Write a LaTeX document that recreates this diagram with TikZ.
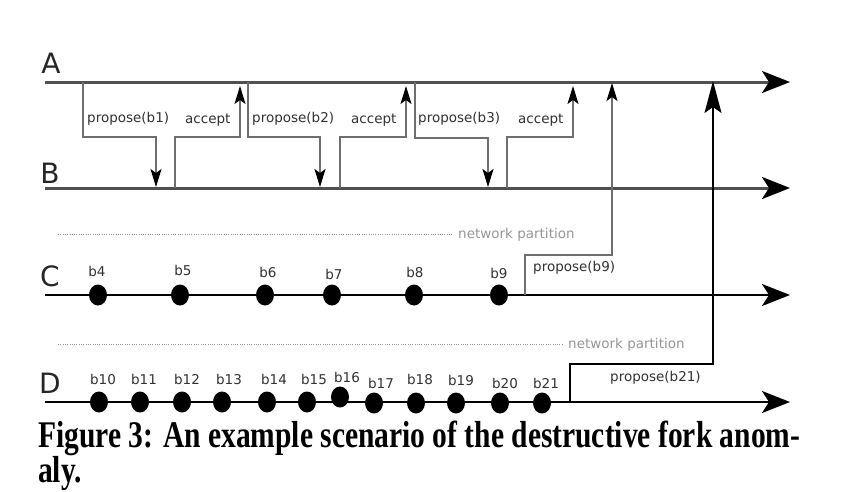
\documentclass[tikz,border=0pt]{standalone}
\usepackage{fontspec}
\usepackage{graphicx}
\setmainfont{DejaVu Sans}
\newfontfamily\capfont{Liberation Serif}
\usetikzlibrary{arrows.meta,shapes.geometric}
\definecolor{lanegray}{RGB}{80,80,80}
\definecolor{msggray}{RGB}{110,110,110}
\definecolor{txtgray}{RGB}{50,50,50}
\definecolor{partgray}{RGB}{150,150,150}
\newsavebox\capboxA
\begin{document}
\sbox\capboxA{\capfont\bfseries Figure 3: An example scenario of the destructive fork anom-}%
\pgfmathsetmacro\capsx{762/\the\wd\capboxA}%
\pgfmathsetmacro\capsy{26.5/\the\ht\capboxA}%
\begin{tikzpicture}[x=1pt,y=-1pt,
  lanegrey/.style={line width=3pt, draw=lanegray, -{Stealth[length=28pt,width=22pt,inset=7pt,color=black]}},
  laneblack/.style={line width=2.5pt, draw=black, -{Stealth[length=28pt,width=22pt,inset=7pt,color=black]}},
  lanelbl/.style={inner sep=0pt, font=\fontsize{28}{30}\selectfont, text=black!85},
  msg/.style={line width=1.5pt, draw=msggray, -{Stealth[length=18pt,width=11pt,inset=4pt,color=black]}},
  bigmsg/.style={line width=1.5pt, draw=black, -{Stealth[length=32pt,width=17pt,inset=6pt,color=black]}},
  msglbl/.style={inner sep=0pt, anchor=west, font=\fontsize{13.5}{16}\selectfont, text=txtgray},
  blklbl/.style={inner sep=0pt, font=\fontsize{13.5}{16}\selectfont, text=txtgray},
  blk/.style={ellipse, fill=black, minimum width=18pt, minimum height=21pt, inner sep=0pt},
  partline/.style={draw=partgray, line width=1pt, dash pattern=on 1pt off 1.3pt},
  partlbl/.style={inner sep=0pt, anchor=west, font=\fontsize{13.5}{16}\selectfont, text=partgray}
]
\clip (0,0) rectangle (862,491);
\useasboundingbox (0,0) rectangle (862,491);
\fill[white] (0,0) rectangle (862,491);

% lanes
\coordinate (A0) at (45,82);  \coordinate (A1) at (790,82);
\coordinate (B0) at (45,188); \coordinate (B1) at (790,188);
\coordinate (C0) at (45,295); \coordinate (C1) at (790,295);
\coordinate (D0) at (45,402); \coordinate (D1) at (790,402);
\draw[lanegrey] (A0) -- (A1);
\draw[lanegrey] (B0) -- (B1);
\draw[laneblack] (C0) -- (C1);
\draw[laneblack] (D0) -- (D1);
\node[lanelbl] (lA) at (51,63) {A};
\node[lanelbl] (lB) at (50,173) {B};
\node[lanelbl] (lC) at (50,276) {C};
\node[lanelbl] (lD) at (50,383) {D};

% partitions
\coordinate (P1a) at (58,234); \coordinate (P1b) at (452,234);
\coordinate (P2a) at (58,344); \coordinate (P2b) at (563,344);
\draw[partline] (P1a) -- (P1b);
\draw[partline] (P2a) -- (P2b);
\node[partlbl] (np1) at (458,235) {network partition};
\node[partlbl] (np2) at (568,345) {network partition};

% propose / accept between A and B
\coordinate (m1s) at (83,82);  \coordinate (m1k) at (156,137); \coordinate (m1e) at (156,187);
\coordinate (a1s) at (175,188); \coordinate (a1k) at (240,137); \coordinate (a1e) at (240,86);
\coordinate (m2s) at (248,82); \coordinate (m2k) at (320,137); \coordinate (m2e) at (320,187);
\coordinate (a2s) at (340,188); \coordinate (a2k) at (406,137); \coordinate (a2e) at (406,86);
\coordinate (m3s) at (415,82); \coordinate (m3k) at (488,138); \coordinate (m3e) at (488,187);
\coordinate (a3s) at (507,188); \coordinate (a3k) at (573,137); \coordinate (a3e) at (573,86);
\draw[msg] (m1s) |- (m1k) -- (m1e);
\draw[msg] (a1s) |- (a1k) -- (a1e);
\draw[msg] (m2s) |- (m2k) -- (m2e);
\draw[msg] (a2s) |- (a2k) -- (a2e);
\draw[msg] (m3s) |- (m3k) -- (m3e);
\draw[msg] (a3s) |- (a3k) -- (a3e);
\node[msglbl] (t1) at (87,119) {propose(b1)};
\node[msglbl] (t2) at (185,120) {accept};
\node[msglbl] (t3) at (252,119) {propose(b2)};
\node[msglbl] (t4) at (351,120) {accept};
\node[msglbl] (t5) at (418,119) {propose(b3)};
\node[msglbl] (t6) at (518,120) {accept};

% propose(b9) from C, propose(b21) from D
\coordinate (p9s) at (525,295); \coordinate (p9k) at (612,255); \coordinate (p9e) at (612,83);
\coordinate (p21s) at (570,402); \coordinate (p21k) at (713,364); \coordinate (p21e) at (713,81);
\draw[msg] (p9s) |- (p9k) -- (p9e);
\draw[bigmsg] (p21s) |- (p21k) -- (p21e);
\node[msglbl] (t9) at (533,268) {propose(b9)};
\node[msglbl] (t21) at (610,378) {propose(b21)};

% blocks on C
\foreach \n/\x/\lx/\ly in {4/98/97/271, 5/180/183/270, 6/265/268/272, 7/332/334/274, 8/414/415/272, 9/499/499/273}{
  \node[blk] (b\n) at (\x,295) {};
  \node[blklbl] (lb\n) at (\lx,\ly) {b\n};
}
% blocks on D
\foreach \n/\x/\y/\lx/\ly in {10/99/402/103/379, 11/140/402/144/379, 12/182/402/187/379, 13/222/402/229/379, 14/267/402/274/379, 15/307/402/314/379, 16/340/397/347/377, 17/374/403/381/383, 18/416/403/420/379, 19/456/403/461/380, 20/500/403/505/383, 21/542/403/546/383}{
  \node[blk] (b\n) at (\x,\y) {};
  \node[blklbl] (lb\n) at (\lx,\ly) {b\n};
}

% caption
\node[inner sep=0pt, anchor=base west] (cap1) at (38,447) {\scalebox{\capsx}[\capsy]{\usebox\capboxA}};
\node[inner sep=0pt, anchor=base west] (cap2) at (38,482.5) {\scalebox{\capsx}[\capsy]{\capfont\bfseries aly.}};
\end{tikzpicture}
\end{document}
